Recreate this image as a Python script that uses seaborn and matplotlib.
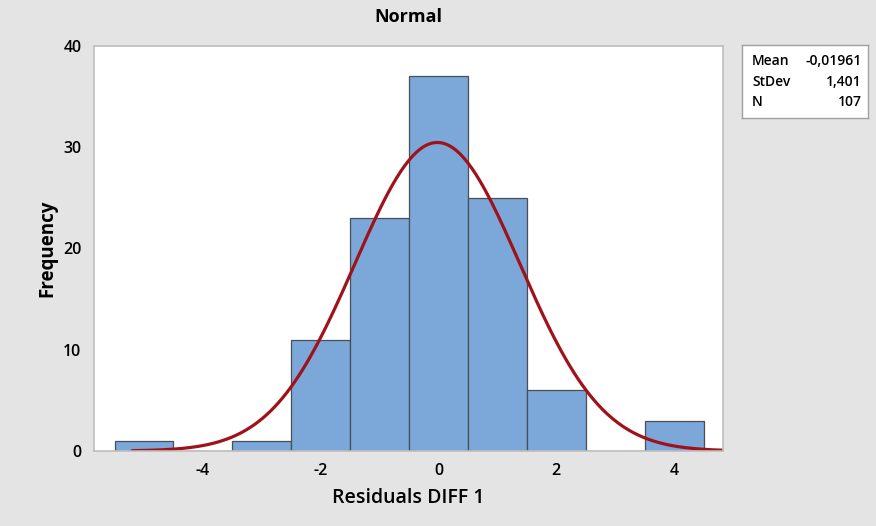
import numpy as np
import pandas as pd
import matplotlib
matplotlib.use("Agg")
import matplotlib.pyplot as plt
import seaborn as sns

# histogram of residuals (bins of width 1, centred on integers)
bin_centers = [-5, -4, -3, -2, -1, 0, 1, 2, 3, 4]
counts = [1, 0, 1, 11, 23, 37, 25, 6, 0, 3]

# fitted normal shown in the legend box
mean = -0.01961
stdev = 1.401
n_obs = 107

x_ticks = [-4, -2, 0, 2, 4]
y_ticks = [0, 10, 20, 30, 40]

sns.set_style("white")
plt.rcParams['font.family'] = ['Open Sans', 'DejaVu Sans']
plt.rcParams['axes.unicode_minus'] = False

bg = '#e4e4e4'
fig = plt.figure(figsize=(8.76, 5.26), dpi=100, facecolor=bg)
ax = fig.add_axes([0.1073, 0.1426, 0.718, 0.77])
ax.set_facecolor('white')

df = pd.DataFrame({'resid': bin_centers, 'count': counts})
sns.histplot(data=df, x='resid', weights='count', binwidth=1, binrange=(-5.5, 4.5),
             ax=ax, color='#7ba7d9', edgecolor='#4a4f57', linewidth=0.9, alpha=1)

# normal fit curve scaled to counts (bin width 1)
xs = np.linspace(-5.2, 4.83, 300)
ys = n_obs * 1.0 / (stdev * np.sqrt(2 * np.pi)) * np.exp(-0.5 * ((xs - mean) / stdev) ** 2)
sns.lineplot(x=xs, y=ys, ax=ax, color='#a0121a', linewidth=2.3)

ax.set_xlim(-5.85, 4.83)
ax.set_ylim(0, 40)
ax.set_xticks(x_ticks)
ax.set_yticks(y_ticks)
ax.tick_params(axis='both', direction='out', length=5, color='#b0b0b0',
               labelsize=11.5, labelcolor='black', pad=4)
for lab in ax.get_xticklabels() + ax.get_yticklabels():
    lab.set_fontweight('semibold')
for s in ax.spines.values():
    s.set_color('#bdbdbd')
    s.set_linewidth(1.2)

ax.set_title('Normal', fontsize=13, fontweight='bold', color='black', pad=17)
ax.set_xlabel('Residuals DIFF 1', fontsize=14, fontweight='semibold',
              color='black', labelpad=6)
ax.set_ylabel('Frequency', fontsize=13.5, fontweight='bold', color='black', labelpad=4)

# stats box
bx = fig.add_axes([742 / 876, 1 - 118 / 526, 126 / 876, 73 / 526])
bx.set_xticks([])
bx.set_yticks([])
bx.set_facecolor('white')
for s in bx.spines.values():
    s.set_color('#a0a0a0')
    s.set_linewidth(1)
rows = [('Mean', '-0,01961'), ('StDev', '1,401'), ('N', str(n_obs))]
for i, (k, v) in enumerate(rows):
    yy = 0.78 - i * 0.28
    bx.text(0.08, yy, k, fontsize=10, fontweight='semibold', color='black',
            va='center', ha='left')
    bx.text(0.95, yy, v, fontsize=10, fontweight='semibold', color='black',
            va='center', ha='right')

fig.savefig('out.png', dpi=100, facecolor=bg)
